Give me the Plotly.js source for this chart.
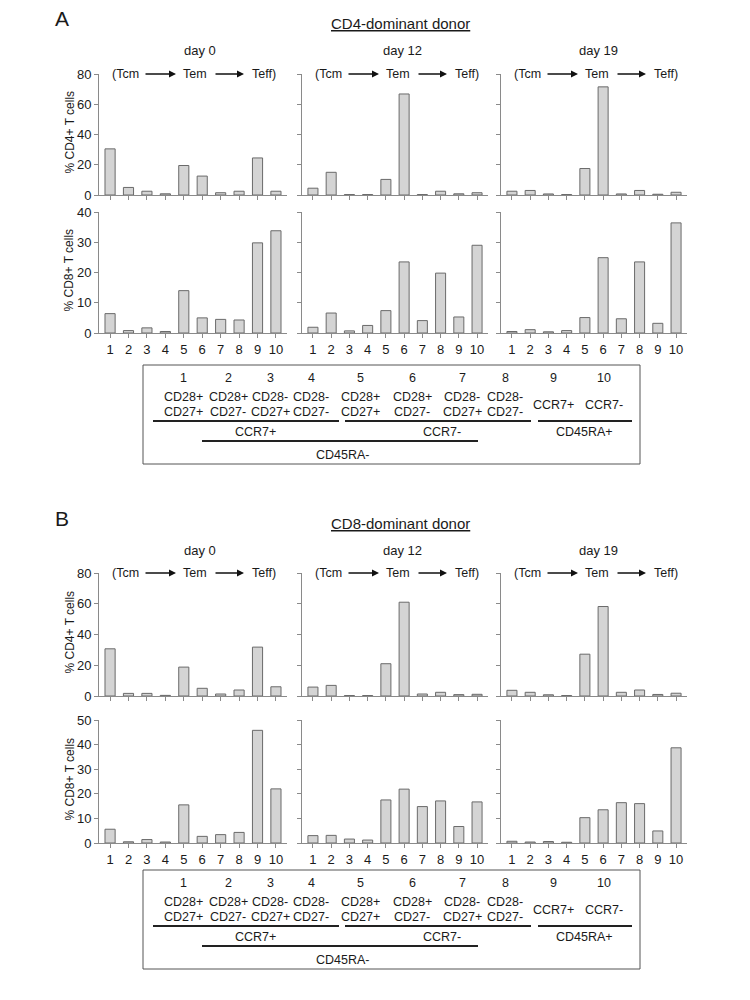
<!DOCTYPE html>
<html>
<head>
<meta charset="utf-8">
<script src="https://cdn.plot.ly/plotly-3.0.1.min.js"></script>
<style>html,body{margin:0;padding:0;background:#fff;}#chart{width:750px;height:1000px;}</style>
</head>
<body>
<div id="chart"></div>
<script>
// ---------------- DATA ----------------
const categories = [1, 2, 3, 4, 5, 6, 7, 8, 9, 10];
const tickLabels = ['1', '2', '3', '4', '5', '6', '7', '8', '9', '10'];
const dayLabels = ['day 0', 'day 12', 'day 19'];
const panelLetters = ['A', 'B'];
const panelTitles = ['CD4-dominant donor', 'CD8-dominant donor'];
const rowTitles = ['% CD4+ T cells', '% CD8+ T cells'];
const stageLabels = ['(Tcm', 'Tem', 'Teff)'];

// Panel A: CD4-dominant donor
const aCD4_day0  = [30.5, 5.0, 2.5, 0.8, 19.5, 12.5, 1.5, 2.5, 24.5, 2.5];
const aCD4_day12 = [4.5, 15.0, 0.3, 0.3, 10.3, 66.8, 0.3, 2.5, 0.8, 1.5];
const aCD4_day19 = [2.5, 3.0, 0.7, 0.3, 17.5, 71.5, 0.7, 3.0, 0.5, 1.8];
const aCD8_day0  = [6.4, 0.8, 1.7, 0.5, 14.0, 5.0, 4.5, 4.3, 29.8, 33.8];
const aCD8_day12 = [1.9, 6.6, 0.7, 2.5, 7.4, 23.5, 4.1, 19.8, 5.3, 29.0];
const aCD8_day19 = [0.5, 1.1, 0.4, 0.8, 5.1, 24.9, 4.7, 23.5, 3.2, 36.4];
// Panel B: CD8-dominant donor
const bCD4_day0  = [30.7, 1.7, 1.7, 0.4, 18.8, 5.0, 1.3, 3.9, 31.8, 6.0];
const bCD4_day12 = [5.8, 6.9, 0.3, 0.3, 21.0, 61.0, 1.3, 2.4, 0.9, 1.1];
const bCD4_day19 = [3.7, 2.4, 0.8, 0.3, 27.2, 58.2, 2.4, 3.9, 1.0, 1.8];
const bCD8_day0  = [5.6, 0.5, 1.4, 0.4, 15.5, 2.7, 3.4, 4.3, 45.8, 22.0];
const bCD8_day12 = [3.0, 3.1, 1.6, 1.2, 17.5, 21.9, 14.8, 17.1, 6.7, 16.7];
const bCD8_day19 = [0.7, 0.4, 0.6, 0.3, 10.3, 13.5, 16.4, 16.0, 4.9, 38.7];

// Legend table text
const legendNums = ['1', '2', '3', '4', '5', '6', '7', '8', '9', '10'];
const legendCD28 = ['CD28+', 'CD28+', 'CD28-', 'CD28-', 'CD28+', 'CD28+', 'CD28-', 'CD28-'];
const legendCD27 = ['CD27+', 'CD27-', 'CD27+', 'CD27-', 'CD27+', 'CD27-', 'CD27+', 'CD27-'];
const legendCCR7RA = ['CCR7+', 'CCR7-'];
const groupLabels = ['CCR7+', 'CCR7-', 'CD45RA+', 'CD45RA-'];

// ---------------- LAYOUT GEOMETRY ----------------
const W = 750, H = 1000;
const P = px => px / W;
const Q = py => 1 - py / H;
const colPx = [[99, 287], [302, 488], [501, 687]];
const rowPx = [[74, 195], [212, 333], [573, 696], [720, 843]];
const rowData = [
  [aCD4_day0, aCD4_day12, aCD4_day19],
  [aCD8_day0, aCD8_day12, aCD8_day19],
  [bCD4_day0, bCD4_day12, bCD4_day19],
  [bCD8_day0, bCD8_day12, bCD8_day19]
];
const rowRange = [[0, 80], [0, 40], [0, 80], [0, 50]];
const rowDtick = [20, 10, 20, 10];

const FONT = 'Liberation Sans, Arial, sans-serif';
const TXT = '#1a1a1a';
const AX = '#8a8a8a';

const traces = [];
const layout = {
  width: W, height: H,
  margin: {l: 0, r: 0, t: 0, b: 0},
  paper_bgcolor: '#fff', plot_bgcolor: '#fff',
  showlegend: false,
  bargap: 0.45,
  font: {family: FONT, color: TXT, size: 13},
  annotations: [], shapes: []
};

for (let r = 0; r < 4; r++) {
  for (let c = 0; c < 3; c++) {
    const i = r * 3 + c + 1;
    const xa = 'xaxis' + (i === 1 ? '' : i), ya = 'yaxis' + (i === 1 ? '' : i);
    const xr = 'x' + (i === 1 ? '' : i), yr = 'y' + (i === 1 ? '' : i);
    traces.push({
      type: 'bar', x: categories, y: rowData[r][c], xaxis: xr, yaxis: yr,
      marker: {color: '#d4d4d4', line: {color: '#6a6a6a', width: 1}},
      hoverinfo: 'skip'
    });
    layout[xa] = {
      domain: [P(colPx[c][0]), P(colPx[c][1])], anchor: yr,
      range: [0.4, 10.6], tickvals: categories, ticktext: tickLabels,
      showticklabels: (r === 1 || r === 3), ticks: 'outside', ticklen: 4, tickcolor: AX,
      showline: true, linecolor: AX, linewidth: 1, showgrid: false, zeroline: false,
      tickfont: {size: 13, color: TXT, family: FONT}, fixedrange: true
    };
    layout[ya] = {
      domain: [Q(rowPx[r][1]), Q(rowPx[r][0])], anchor: xr,
      range: rowRange[r], dtick: rowDtick[r], tick0: 0,
      showticklabels: c === 0, ticks: 'outside', ticklen: 4, tickcolor: AX,
      showline: true, linecolor: AX, linewidth: 1, showgrid: false, zeroline: false,
      tickfont: {size: 13, color: TXT, family: FONT}, fixedrange: true
    };
  }
}

function ann(text, px, py, opts) {
  layout.annotations.push(Object.assign({
    text: text, x: P(px), y: Q(py), xref: 'paper', yref: 'paper',
    showarrow: false, xanchor: 'center', yanchor: 'middle',
    font: {family: FONT, size: 12.5, color: TXT}
  }, opts || {}));
}
function line(x0, y0, x1, y1, w, col) {
  layout.shapes.push({type: 'line', xref: 'paper', yref: 'paper',
    x0: P(x0), y0: Q(y0), x1: P(x1), y1: Q(y1), line: {color: col || '#222', width: w || 1}});
}

const panelOffsets = [0, 500];
const dayCenters = [200, 402, 598];
for (let p = 0; p < 2; p++) {
  const o = panelOffsets[p];
  ann(panelLetters[p], 62, 18 + o, {font: {family: FONT, size: 21, color: TXT}});
  ann('<u>' + panelTitles[p] + '</u>', 400, 23 + o, {font: {family: FONT, size: 15, color: TXT}});
  for (let c = 0; c < 3; c++) {
    ann(dayLabels[c], dayCenters[c], 50 + o, {font: {family: FONT, size: 13, color: TXT}});
    const left = colPx[c][0];
    const ty = (p === 0 ? 74 : 573);
    ann(stageLabels[0], left + 26, ty, {font: {family: FONT, size: 12.5, color: TXT}});
    ann(stageLabels[1], left + 96, ty, {font: {family: FONT, size: 12.5, color: TXT}});
    ann(stageLabels[2], left + 165, ty, {font: {family: FONT, size: 12.5, color: TXT}});
    // arrows
    [[45, 77], [115, 145]].forEach(seg => {
      layout.annotations.push({
        text: '', xref: 'paper', yref: 'paper', x: P(left + seg[1]), y: Q(ty),
        ax: -(seg[1] - seg[0]), ay: 0, showarrow: true,
        arrowhead: 2, arrowsize: 1, arrowwidth: 1.4, arrowcolor: '#111', standoff: 0
      });
    });
  }
  // y-axis titles
  const r0 = p * 2, r1 = p * 2 + 1;
  ann(rowTitles[0], 69, (rowPx[r0][0] + rowPx[r0][1]) / 2 - 2, {textangle: -90, font: {family: FONT, size: 12, color: TXT}});
  ann(rowTitles[1], 69, (rowPx[r1][0] + rowPx[r1][1]) / 2 - 2, {textangle: -90, font: {family: FONT, size: 12, color: TXT}});
}

// Legend tables
const legX = [183, 228, 270, 311, 360, 412, 462, 505, 553, 604];
const legendTops = [365, 870];
for (let p = 0; p < 2; p++) {
  const t = legendTops[p];
  const d = t - 365;
  layout.shapes.push({type: 'rect', xref: 'paper', yref: 'paper',
    x0: P(143), x1: P(640), y0: Q(t), y1: Q(464 + d), line: {color: '#555', width: 1}});
  for (let k = 0; k < 10; k++) ann(legendNums[k], legX[k], 378 + d);
  for (let k = 0; k < 8; k++) {
    ann(legendCD28[k], legX[k], 397 + d);
    ann(legendCD27[k], legX[k], 412 + d);
  }
  ann(legendCCR7RA[0], legX[8], 405 + d);
  ann(legendCCR7RA[1], legX[9], 405 + d);
  line(153, 421 + d, 339, 421 + d, 1.8);
  line(345, 421 + d, 531, 421 + d, 1.8);
  line(538, 421 + d, 632, 421 + d, 1.8);
  line(202, 441 + d, 478, 441 + d, 2.2);
  ann(groupLabels[0], 255, 432 + d);
  ann(groupLabels[1], 442, 432 + d);
  ann(groupLabels[2], 584, 432 + d);
  ann(groupLabels[3], 343, 455 + d);
}

Plotly.newPlot('chart', traces, layout, {staticPlot: true, displayModeBar: false});
</script>
</body>
</html>
